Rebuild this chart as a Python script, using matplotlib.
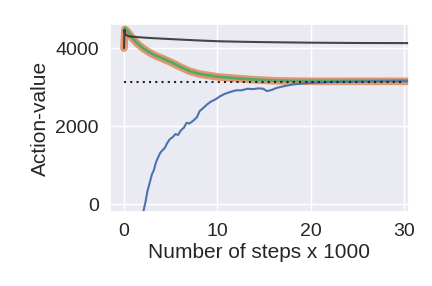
import matplotlib
matplotlib.use("Agg")
import matplotlib.pyplot as plt
import seaborn as sns

# steps (x 1000) and action-value estimates
blue_x = [1.9, 2.1, 2.3, 2.5, 2.8, 3.0, 3.2, 3.4, 3.6, 3.9, 4.1, 4.4, 4.6, 4.9, 5.2,
          5.5, 5.8, 6.1, 6.4, 6.7, 7.0, 7.4, 7.8, 8.1, 8.5, 8.9, 9.3, 9.8, 10.3,
          10.8, 11.4, 12.0, 12.6, 13.2, 13.8, 14.4, 14.9, 15.3, 15.8, 16.4, 17.2,
          18.1, 19.0, 20.0, 21.0, 22.4, 24.0, 26.0, 28.0, 30.6]
blue_y = [-400, -150, 60, 330, 600, 780, 880, 1060, 1180, 1330, 1380, 1460, 1560,
          1670, 1720, 1800, 1780, 1900, 1960, 2090, 2070, 2140, 2230, 2390, 2470,
          2560, 2630, 2690, 2770, 2830, 2880, 2920, 2920, 2960, 2950, 2970, 2960,
          2900, 2930, 2985, 3030, 3070, 3090, 3110, 3120, 3135, 3140, 3145, 3150, 3150]

decay_x = [0.0, 0.1, 0.3, 0.6, 1.0, 1.5, 2.0, 2.5, 3.0, 3.5, 4.0, 4.5, 5.0, 6.0, 7.0,
           8.0, 9.0, 10.0, 11.0, 12.0, 14.0, 16.0, 18.0, 20.0, 25.0, 30.6]
orange_y = [4000, 4480, 4440, 4350, 4220, 4100, 4000, 3920, 3850, 3790, 3745, 3690,
            3640, 3520, 3410, 3340, 3300, 3265, 3245, 3225, 3190, 3165, 3155, 3150,
            3150, 3150]
green_y = [4420, 4510, 4460, 4360, 4225, 4105, 4005, 3925, 3855, 3795, 3750, 3695,
           3645, 3525, 3415, 3345, 3305, 3270, 3250, 3230, 3195, 3170, 3162, 3160,
           3165, 3170]

black_x = [0.0, 0.05, 0.15, 0.5, 1.0, 2.0, 3.0, 5.0, 7.5, 10.0, 12.5, 15.0, 20.0, 25.0, 30.6]
black_y = [4000, 4470, 4350, 4300, 4290, 4270, 4255, 4230, 4200, 4175, 4162, 4152,
           4138, 4130, 4127]

target_x = [0.0, 30.0]
target_y = [3126, 3126]

sns.set_theme(style="darkgrid")
plt.rcParams["font.family"] = ["Liberation Sans", "DejaVu Sans"]

fig = plt.figure(figsize=(4.32, 2.86), dpi=100)
ax = fig.add_axes([0.2546, 0.259, 0.692, 0.657])

ax.plot(decay_x, orange_y, color="#DD8452", lw=5.5, alpha=0.8, solid_capstyle="round")
ax.plot(decay_x, green_y, color="#55A868", lw=2)
ax.plot(blue_x, blue_y, color="#4C72B0", lw=1.5)
ax.plot(black_x, black_y, color="#333333", lw=1.5, alpha=0.9)
ax.plot(target_x, target_y, color="#222222", lw=1.5, linestyle=(0, (1, 2)))

ax.set_xlim(-1.5, 30.5)
ax.set_ylim(-190, 4615)
ax.set_xticks([0, 10, 20, 30])
ax.set_yticks([0, 2000, 4000])
ax.tick_params(labelsize=14, pad=2)
ax.set_xlabel("Number of steps x 1000", fontsize=15, labelpad=2)
ax.set_ylabel("Action-value", fontsize=15, labelpad=4)

fig.savefig("out.png", dpi=100)
